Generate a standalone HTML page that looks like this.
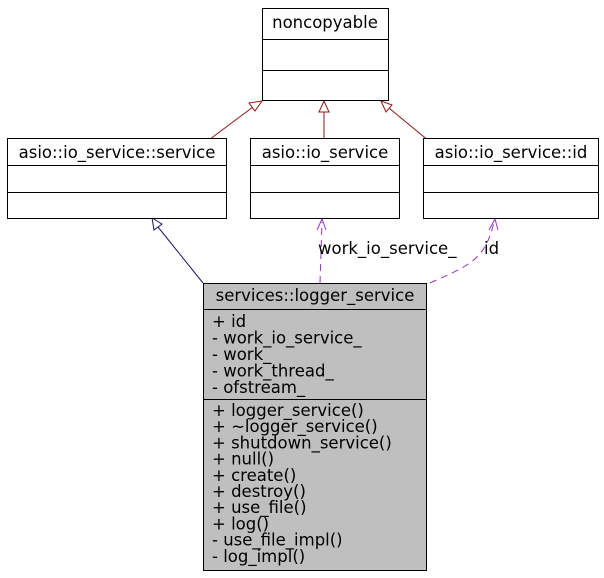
<!DOCTYPE html>
<html><head><style>
body{margin:0;background:#fff;width:604px;height:578px;overflow:hidden}
svg{display:block}
text{font-family:"DejaVu Sans","Liberation Sans",sans-serif;font-size:16.5px;fill:#000}
</style></head><body>
<svg width="604" height="578" viewBox="0 0 604 578">
<g stroke="#8b1a1a" fill="#fff">
<line x1="182" y1="160" x2="253" y2="107"/><polygon points="262,101 249,103 255,111"/>
<line x1="324" y1="160" x2="324" y2="112"/><polygon points="324,101 319,112 329,112"/>
<line x1="452" y1="160" x2="389" y2="108"/><polygon points="381,101 386,112 392,105"/>
</g>
<g stroke="#191970" fill="#fff">
<line x1="203" y1="283" x2="158" y2="227"/><polygon points="152,218 154,230 162,224"/>
</g>
<g stroke="#9a32cd" fill="none" stroke-dasharray="7,5">
<path d="M320,283 L322,222"/>
<path d="M430,283 C470,265 485,260 494,222"/>
</g>
<g stroke="#9a32cd" fill="none">
<path d="M317,230 L322,219 L326,230"/>
<path d="M489,230 L495,219 L498,230"/>
</g>
<g fill="#fff" stroke="#000" stroke-width="1">
<rect x="262.5" y="8.5" width="126" height="92"/>
<line x1="262" y1="39.5" x2="389" y2="39.5"/><line x1="262" y1="70.5" x2="389" y2="70.5"/>
<rect x="7.5" y="138.5" width="219" height="80"/>
<line x1="7" y1="165.5" x2="227" y2="165.5"/><line x1="7" y1="192.5" x2="227" y2="192.5"/>
<rect x="250.5" y="138.5" width="149" height="80"/>
<line x1="250" y1="165.5" x2="400" y2="165.5"/><line x1="250" y1="192.5" x2="400" y2="192.5"/>
<rect x="423.5" y="138.5" width="175" height="80"/>
<line x1="423" y1="165.5" x2="599" y2="165.5"/><line x1="423" y1="192.5" x2="599" y2="192.5"/>
<rect x="203.5" y="283.5" width="223" height="287" fill="#bfbfbf"/>
<line x1="203" y1="309.5" x2="427" y2="309.5"/><line x1="203" y1="399.5" x2="427" y2="399.5"/>
</g>
<text x="325" y="28" text-anchor="middle">noncopyable</text>
<text x="117" y="158" text-anchor="middle">asio::io_service::service</text>
<text x="325" y="158" text-anchor="middle">asio::io_service</text>
<text x="511" y="158" text-anchor="middle">asio::io_service::id</text>
<text x="315" y="301" text-anchor="middle">services::logger_service</text>
<g>
<text x="212" y="327">+ id</text>
<text x="212" y="343.5">- work_io_service_</text>
<text x="212" y="360">- work_</text>
<text x="212" y="376.5">- work_thread_</text>
<text x="212" y="393">- ofstream_</text>
<text x="212" y="416">+ logger_service()</text>
<text x="212" y="432.2">+ ~logger_service()</text>
<text x="212" y="448.4">+ shutdown_service()</text>
<text x="212" y="464.6">+ null()</text>
<text x="212" y="480.8">+ create()</text>
<text x="212" y="497">+ destroy()</text>
<text x="212" y="513.2">+ use_file()</text>
<text x="212" y="529.4">+ log()</text>
<text x="212" y="545.6">- use_file_impl()</text>
<text x="212" y="561.8">- log_impl()</text>
</g>
<text x="318" y="254">work_io_service_</text>
<text x="484" y="254">id</text>
</svg>
</body></html>
